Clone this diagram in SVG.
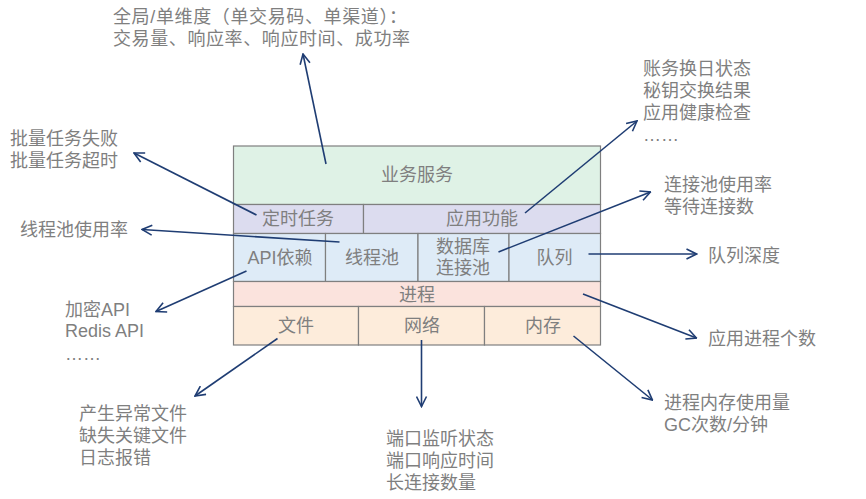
<svg xmlns="http://www.w3.org/2000/svg" width="866" height="499" viewBox="0 0 866 499">
<style>
.box{stroke:#7f7f7f;stroke-width:1.2}
.bl{font-family:"Liberation Sans","Noto Sans CJK SC",sans-serif;font-size:18px;fill:#7f7f7f;text-anchor:middle}
.lb{font-family:"Liberation Sans","Noto Sans CJK SC",sans-serif;font-size:18px;fill:#7f7f7f}
.ar{stroke:#1f3d73;stroke-width:1.6;fill:none;marker-end:url(#ah)}
</style>
<defs>
<marker id="ah" viewBox="0 0 12 12" refX="11" refY="6" markerWidth="12" markerHeight="12" markerUnits="userSpaceOnUse" orient="auto">
<path d="M1,1 L11,6 L1,11" fill="none" stroke="#1f3d73" stroke-width="1.6"/>
</marker>
</defs>
<rect width="866" height="499" fill="#ffffff"/>
<g id="stack">
<g id="n-biz"><rect class="box" x="233.5" y="146" width="367" height="58.5" fill="#dff2e6"/><text class="bl" x="417" y="180.5">业务服务</text></g>
<g id="n-timer"><rect class="box" x="233.5" y="204.5" width="130" height="29" fill="#dcdcef"/><text class="bl" x="298" y="225">定时任务</text></g>
<g id="n-func"><rect class="box" x="363.5" y="204.5" width="237" height="29" fill="#dcdcef"/><text class="bl" x="482" y="225">应用功能</text></g>
<g id="n-api"><rect class="box" x="233.5" y="233.5" width="92" height="48" fill="#deebf7"/><text class="bl" x="280" y="263.5">API依赖</text></g>
<g id="n-thread"><rect class="box" x="325.5" y="233.5" width="92.5" height="48" fill="#deebf7"/><text class="bl" x="372" y="263.5">线程池</text></g>
<g id="n-db"><rect class="box" x="418" y="233.5" width="91" height="48" fill="#deebf7"/><text class="bl" x="463" y="252.5">数据库</text><text class="bl" x="463" y="273.5">连接池</text></g>
<g id="n-queue"><rect class="box" x="509" y="233.5" width="91.5" height="48" fill="#deebf7"/><text class="bl" x="554.5" y="263.5">队列</text></g>
<g id="n-proc"><rect class="box" x="233.5" y="281.5" width="367" height="25" fill="#fbe3dd"/><text class="bl" x="417" y="300.5">进程</text></g>
<g id="n-file"><rect class="box" x="233.5" y="306.5" width="125" height="38.5" fill="#fdecdb"/><text class="bl" x="296" y="332">文件</text></g>
<g id="n-net"><rect class="box" x="358.5" y="306.5" width="126" height="38.5" fill="#fdecdb"/><text class="bl" x="422" y="332">网络</text></g>
<g id="n-mem"><rect class="box" x="484.5" y="306.5" width="116" height="38.5" fill="#fdecdb"/><text class="bl" x="543" y="332">内存</text></g>
</g>
<g id="labels">
<g id="t-biz"><text class="lb" x="113" y="23" textLength="294" lengthAdjust="spacing">全局/单维度（单交易码、单渠道）：</text><text class="lb" x="113" y="45" textLength="297" lengthAdjust="spacing">交易量、响应率、响应时间、成功率</text></g>
<g id="t-timer"><text class="lb" x="10" y="145">批量任务失败</text><text class="lb" x="10" y="166.5">批量任务超时</text></g>
<g id="t-thread"><text class="lb" x="20" y="236">线程池使用率</text></g>
<g id="t-func"><text class="lb" x="643" y="75">账务换日状态</text><text class="lb" x="643" y="97">秘钥交换结果</text><text class="lb" x="643" y="119">应用健康检查</text><text class="lb" x="643" y="141">……</text></g>
<g id="t-db"><text class="lb" x="664" y="191">连接池使用率</text><text class="lb" x="664" y="212.5">等待连接数</text></g>
<g id="t-queue"><text class="lb" x="708" y="262">队列深度</text></g>
<g id="t-proc"><text class="lb" x="708" y="345">应用进程个数</text></g>
<g id="t-mem"><text class="lb" x="664" y="409">进程内存使用量</text><text class="lb" x="664" y="430.5">GC次数/分钟</text></g>
<g id="t-api"><text class="lb" x="65" y="315.5">加密API</text><text class="lb" x="65" y="337">Redis API</text><text class="lb" x="65" y="360">……</text></g>
<g id="t-file"><text class="lb" x="79" y="420">产生异常文件</text><text class="lb" x="79" y="442">缺失关键文件</text><text class="lb" x="79" y="464">日志报错</text></g>
<g id="t-net"><text class="lb" x="386" y="444.5">端口监听状态</text><text class="lb" x="386" y="466.5">端口响应时间</text><text class="lb" x="386" y="488.5">长连接数量</text></g>
</g>
<g id="connectors">
<line class="ar" x1="326" y1="164" x2="303" y2="54"/>
<line class="ar" x1="256.5" y1="215" x2="134" y2="153"/>
<line class="ar" x1="339.5" y1="242" x2="142" y2="229.5"/>
<line class="ar" x1="525" y1="213" x2="637" y2="121"/>
<line class="ar" x1="498.5" y1="252" x2="650.5" y2="192"/>
<line class="ar" x1="588.5" y1="254" x2="696.5" y2="254"/>
<line class="ar" x1="583" y1="294" x2="696.5" y2="338"/>
<line class="ar" x1="573.5" y1="336" x2="652.5" y2="400"/>
<line class="ar" x1="246.5" y1="271" x2="156" y2="311.5"/>
<line class="ar" x1="277.5" y1="338.5" x2="195" y2="396"/>
<line class="ar" x1="421.5" y1="340" x2="421.5" y2="406.5"/>
</g>
</svg>
